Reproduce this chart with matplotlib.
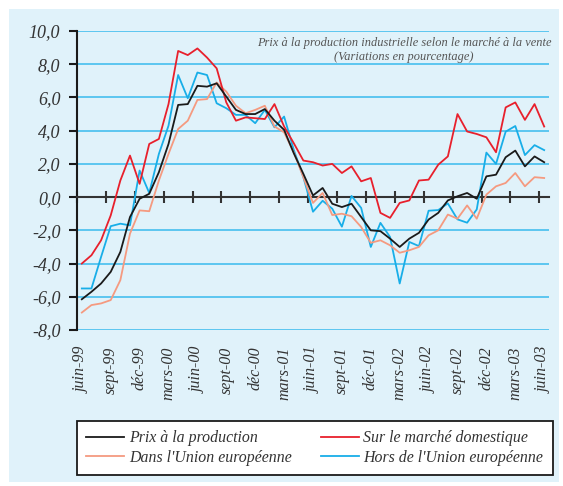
import matplotlib
matplotlib.use("Agg")
import matplotlib.pyplot as plt
from matplotlib.patches import Rectangle
import numpy as np

# monthly series, juin-99 .. juin-03 (49 months)
months = ["juin-99", "sept-99", "déc-99", "mars-00", "juin-00", "sept-00", "déc-00",
          "mars-01", "juin-01", "sept-01", "déc-01", "mars-02", "juin-02", "sept-02",
          "déc-02", "mars-03", "juin-03"]

prix_production = [-6.15, -5.7, -5.2, -4.5, -3.3, -1.2, -0.1, 0.2, 1.5, 3.2,
                   5.55, 5.6, 6.7, 6.65, 6.85, 6.05, 5.25, 5.0, 5.0, 5.3,
                   4.6, 4.05, 2.65, 1.4, 0.1, 0.55, -0.4, -0.6, -0.4, -1.2,
                   -2.0, -2.05, -2.5, -3.0, -2.5, -2.15, -1.35, -0.95, -0.2, 0.05,
                   0.25, -0.1, 1.25, 1.35, 2.4, 2.8, 1.85, 2.45, 2.1]

marche_domestique = [-4.0, -3.5, -2.6, -1.1, 1.0, 2.5, 0.8, 3.2, 3.5, 5.6,
                     8.8, 8.55, 8.95, 8.4, 7.75, 5.7, 4.6, 4.8, 4.75, 4.7,
                     5.6, 4.25, 3.25, 2.2, 2.1, 1.9, 2.0, 1.45, 1.85, 0.95,
                     1.15, -0.95, -1.25, -0.35, -0.2, 1.0, 1.05, 1.95, 2.45, 5.0,
                     3.95, 3.8, 3.6, 2.7, 5.4, 5.7, 4.65, 5.6, 4.25]

union_europeenne = [-6.95, -6.5, -6.4, -6.2, -5.0, -2.2, -0.8, -0.85, 1.0, 2.6,
                    4.1, 4.6, 5.85, 5.9, 6.9, 6.35, 5.5, 5.05, 5.25, 5.5,
                    4.25, 3.9, 2.7, 1.2, -0.35, 0.25, -1.08, -1.0, -1.15, -1.8,
                    -2.75, -2.6, -2.9, -3.35, -3.2, -3.0, -2.3, -2.0, -1.05, -1.3,
                    -0.5, -1.3, 0.15, 0.65, 0.85, 1.45, 0.65, 1.2, 1.15]

hors_union = [-5.5, -5.5, -3.6, -1.75, -1.6, -1.7, 1.6, 0.25, 2.6, 4.3,
              7.35, 5.95, 7.5, 7.35, 5.65, 5.35, 4.95, 4.95, 4.45, 5.25,
              4.2, 4.85, 2.85, 1.2, -0.88, -0.22, -0.7, -1.78, 0.07, -0.65,
              -3.0, -1.55, -2.4, -5.2, -2.7, -2.95, -0.82, -0.78, -0.38, -1.34,
              -1.54, -0.74, 2.68, 2.0, 3.94, 4.28, 2.53, 3.13, 2.83]

bg = "#e0f2fa"
grid_col = "#5cc6f0"
serif = ["Liberation Serif", "DejaVu Serif"]

fig = plt.figure(figsize=(5.63, 4.86), dpi=100)
fig.patch.set_facecolor("white")
fig.patches.append(Rectangle((9 / 563, 1 - 482 / 486), 550 / 563, 473 / 486,
                             transform=fig.transFigure, facecolor=bg,
                             edgecolor="none", zorder=-5))

ax = fig.add_axes([77 / 563, 1 - 330 / 486, 472 / 563, 299 / 486])
ax.set_facecolor(bg)

x = np.arange(len(prix_production))
ax.plot(x, hors_union, color="#18aee8", lw=1.3, label="Hors de l'Union européenne", zorder=3)
ax.plot(x, union_europeenne, color="#f59a80", lw=1.3, label="Dans l'Union européenne", zorder=3)
ax.plot(x, marche_domestique, color="#e8202c", lw=1.3, label="Sur le marché domestique", zorder=3)
ax.plot(x, prix_production, color="#1a1a1a", lw=1.3, label="Prix à la production", zorder=4)

ax.set_xlim(-0.5, len(x) - 0.5)
ax.set_ylim(-8, 10)

yt = np.arange(-8, 11, 2)
ax.set_yticks(yt)
ax.set_yticklabels([f"{v:.1f}".replace(".", ",") for v in yt],
                   fontfamily=serif, fontstyle="italic", fontsize=13, color="#333333")
ax.yaxis.grid(True, color=grid_col, lw=1.4)
ax.set_axisbelow(True)
ax.tick_params(axis="y", direction="out", length=6, width=1.5, color="#1a1a1a", pad=6)

for s in ["top", "right"]:
    ax.spines[s].set_visible(False)
ax.spines["left"].set_linewidth(1.5)
ax.spines["left"].set_color("#1a1a1a")
ax.spines["bottom"].set_position(("data", 0))
ax.spines["bottom"].set_linewidth(1.5)
ax.spines["bottom"].set_color("#333333")
ax.spines["bottom"].set_zorder(2.5)

# tick marks on the zero line, between quarters
ax.set_xticks(np.arange(-0.5, len(x), 3))
ax.set_xticklabels([])
ax.tick_params(axis="x", direction="inout", length=9, width=1.5, color="#333333")

# month labels at the bottom
sec = ax.secondary_xaxis(0.0)
sec.set_xticks(np.arange(0, len(x), 3))
sec.set_xticklabels(months, rotation=90, fontfamily=serif, fontstyle="italic",
                    fontsize=11.5, color="#333333")
sec.tick_params(axis="x", length=0, pad=12)
sec.spines["bottom"].set_visible(False)

ax.text(0.693, 0.96, "Prix à la production industrielle selon le marché à la vente",
        transform=ax.transAxes, ha="center", va="center", fontfamily=serif,
        fontstyle="italic", fontsize=8.9, color="#555555")
ax.text(0.693, 0.913, "(Variations en pourcentage)", transform=ax.transAxes,
        ha="center", va="center", fontfamily=serif, fontstyle="italic",
        fontsize=8.9, color="#555555")

h, l = ax.get_legend_handles_labels()
order = [3, 1, 2, 0]
leg = fig.legend([h[i] for i in order], [l[i] for i in order], ncol=2,
                 bbox_to_anchor=(77 / 563, 1 - 475 / 486), loc="lower left",
                 frameon=True, fancybox=False, borderpad=0.6,
                 handlelength=2.4, handletextpad=0.3, borderaxespad=0,
                 prop={"family": serif, "style": "italic", "size": 11.4},
                 labelspacing=0.2, columnspacing=1.8)
leg.get_frame().set_edgecolor("#1a1a1a")
leg.get_frame().set_linewidth(1.3)
leg.get_frame().set_facecolor("white")
leg.get_frame().set_alpha(1)
for t in leg.get_texts():
    t.set_color("#333333")

fig.savefig("out.png", dpi=100)
